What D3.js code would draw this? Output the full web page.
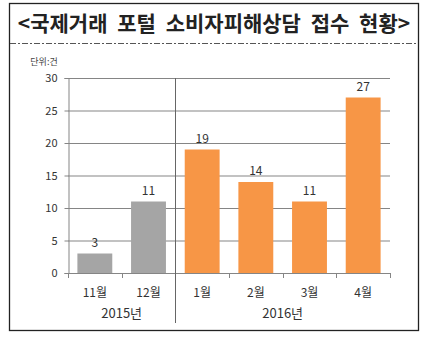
<!DOCTYPE html>
<html><head><meta charset="utf-8">
<script src="https://cdn.jsdelivr.net/npm/d3@7/dist/d3.min.js"></script>
<style>body{margin:0;background:#fff}svg{display:block}text{font-family:"Noto Sans CJK KR","Noto Sans",sans-serif}</style>
</head><body><svg id="c" width="425" height="340"></svg>
<script>
const categories = ["11월","12월","1월","2월","3월","4월"];
const values = [3,11,19,14,11,27];
const years = ["2015년","2015년","2016년","2016년","2016년","2016년"];
const yearLabels = ["2015년","2016년"];
const yTicks = [0,5,10,15,20,25,30];
const colors = ["#a5a5a5","#a5a5a5","#f79646","#f79646","#f79646","#f79646"];
const title = "<국제거래 포털 소비자피해상담 접수 현황>";
const unit = "단위:건";

const svg = d3.select("#c");
// outer box
svg.append("rect").attr("x",9.5).attr("y",3.5).attr("width",409).attr("height",327).attr("fill","none").attr("stroke","#222").attr("stroke-width",1.3);
svg.append("line").attr("x1",10).attr("x2",418).attr("y1",43.5).attr("y2",43.5).attr("stroke","#555").attr("stroke-width",1.2).attr("stroke-dasharray","6,2,2,2");
svg.append("text").attr("x",214).attr("y",31).attr("text-anchor","middle").attr("font-size",21).attr("font-weight","bold").attr("word-spacing",5).attr("fill","#222").text(title);

const x = d3.scaleBand().domain(categories).range([68,390]).paddingInner(0.35).paddingOuter(0.175);
const y = d3.scaleLinear().domain([0,30]).range([273,78]);

// gridlines
svg.append("g").selectAll("line").data(yTicks.filter(d=>d>0)).join("line")
  .attr("x1",68).attr("x2",390).attr("y1",d=>y(d)+0.5).attr("y2",d=>y(d)+0.5).attr("stroke","#858585").attr("stroke-width",1);

// y axis
const ya = svg.append("g").attr("transform","translate(68.5,0)").call(d3.axisLeft(y).tickValues(yTicks).tickSize(4).tickPadding(7));
ya.select(".domain").attr("stroke","#858585");
ya.selectAll(".tick line").attr("stroke","#858585");
ya.selectAll("text").attr("font-size",11).attr("fill","#333").attr("font-family","'Liberation Sans',sans-serif");

svg.append("text").attr("x",44).attr("y",65).attr("text-anchor","middle").attr("font-size",9).attr("fill","#444").text(unit);

// bars
svg.append("g").selectAll("rect").data(values).join("rect")
  .attr("x",(d,i)=>x(categories[i])).attr("width",x.bandwidth())
  .attr("y",d=>y(d)).attr("height",d=>y(0)-y(d)).attr("fill",(d,i)=>colors[i]);
svg.append("g").selectAll("text").data(values).join("text")
  .attr("x",(d,i)=>x(categories[i])+x.bandwidth()/2).attr("y",d=>y(d)-7)
  .attr("text-anchor","middle").attr("font-size",12).attr("fill","#333").attr("font-family","'Liberation Sans',sans-serif").text(d=>d);

// x axis
svg.append("line").attr("x1",68).attr("x2",390).attr("y1",273.5).attr("y2",273.5).attr("stroke","#858585");
const bounds = d3.range(categories.length+1).map(i=>68+ i*(322/categories.length));
svg.append("g").selectAll("line").data(bounds).join("line")
  .attr("x1",d=>Math.round(d)+0.5).attr("x2",d=>Math.round(d)+0.5).attr("y1",273).attr("y2",278).attr("stroke","#858585");
svg.append("g").selectAll("text").data(categories).join("text")
  .attr("x",d=>x(d)+x.bandwidth()/2).attr("y",297).attr("text-anchor","middle").attr("font-size",12).attr("fill","#333").text(d=>d);
// year divider
const divX = Math.round((x(categories[1])+x.bandwidth()+x(categories[2]))/2)+0.5;
svg.append("line").attr("x1",divX).attr("x2",divX).attr("y1",78).attr("y2",323).attr("stroke","#666");
// year labels
yearLabels.forEach(yl=>{
  const idx = categories.map((c,i)=>i).filter(i=>years[i]===yl);
  const cx = (x(categories[idx[0]]) + x(categories[idx[idx.length-1]])+x.bandwidth())/2;
  svg.append("text").attr("x",cx).attr("y",318).attr("text-anchor","middle").attr("font-size",13).attr("fill","#333").text(yl);
});
</script></body></html>
